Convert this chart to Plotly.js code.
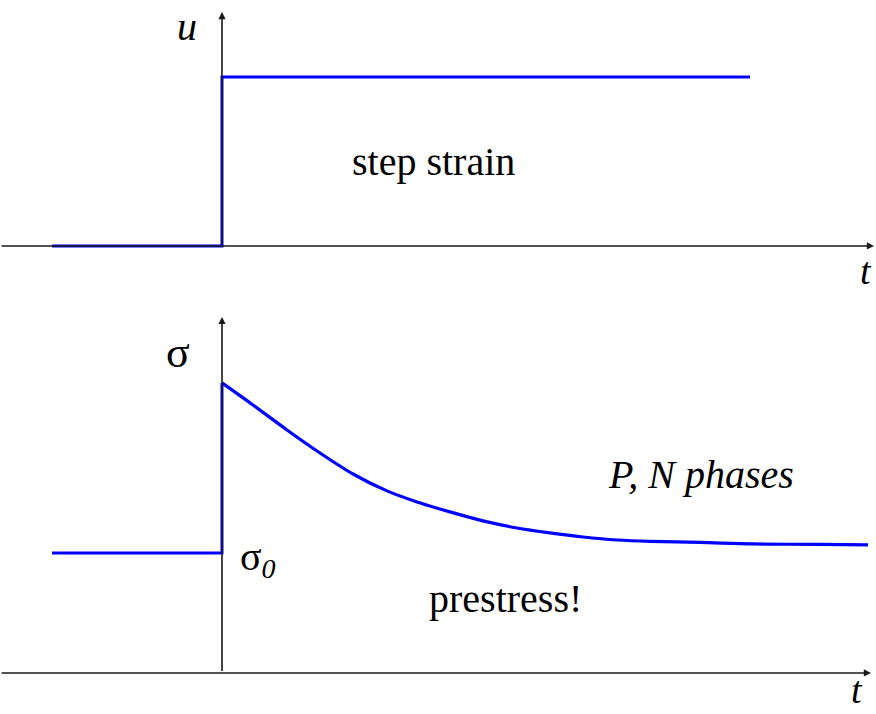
<!DOCTYPE html>
<html>
<head>
<meta charset="utf-8">
<script src="https://cdn.plot.ly/plotly-3.0.1.min.js"></script>
<style>html,body{margin:0;padding:0;background:#fff;}#chart{width:876px;height:714px;}</style>
</head>
<body>
<div id="chart"></div>
<script>
// Step strain input u(t)
var strainT = [-1.7, 0, 0, 5.28];
var strainU = [0, 0, 1, 1];

// Stress response sigma(t)
var stressT = [-1.7, 0, 0, 0.31, 0.65, 0.98, 1.31, 1.65, 1.95, 2.28, 2.61, 2.95, 3.28, 3.61, 3.95, 4.28, 4.78, 5.31, 5.98, 6.46];
var stressS = [1.0, 1.0, 2.417, 2.233, 2.025, 1.833, 1.658, 1.517, 1.425, 1.342, 1.267, 1.208, 1.167, 1.133, 1.108, 1.096, 1.088, 1.075, 1.071, 1.067];

// Axis extents
var tMin = -2.22, tMax = 6.54;
var uAxisTop = 1.385;
var sAxisTop = 2.967;

var serif = "Liberation Serif";
var blue = "#0000ff";
var axisCol = "#1a1a1a";

var traces = [
  {x: strainT, y: strainU, xaxis: "x", yaxis: "y", mode: "lines", line: {color: blue, width: 3}, hoverinfo: "skip"},
  {x: stressT.slice(0, 3), y: stressS.slice(0, 3), xaxis: "x2", yaxis: "y2", mode: "lines", line: {color: blue, width: 3}, hoverinfo: "skip"},
  {x: stressT.slice(2), y: stressS.slice(2), xaxis: "x2", yaxis: "y2", mode: "lines", line: {color: blue, width: 3.2, shape: "spline", smoothing: 0.8}, hoverinfo: "skip"}
];

function arrow(xr, yr, x, y, ax, ay) {
  return {xref: xr, yref: yr, axref: xr, ayref: yr, x: x, y: y, ax: ax, ay: ay, text: " ",
          font: {size: 1}, showarrow: true, arrowhead: 2, arrowsize: 0.9, arrowwidth: 1.6, arrowcolor: axisCol};
}
function label(xr, yr, x, y, txt, size, italic, yanchor) {
  return {xref: xr, yref: yr, x: x, y: y, text: txt, showarrow: false, yanchor: yanchor || "middle",
          font: {family: serif, size: size, color: "#000", style: italic ? "italic" : "normal"}};
}

var layout = {
  width: 876, height: 714,
  margin: {l: 0, r: 0, t: 0, b: 0},
  paper_bgcolor: "#fff", plot_bgcolor: "#fff",
  font: {family: serif},
  showlegend: false,
  xaxis: {domain: [0, 1], range: [tMin, tMax], visible: false, fixedrange: true},
  yaxis: {domain: [0.594, 1], range: [-0.260, 1.456], visible: false, fixedrange: true},
  xaxis2: {domain: [0, 1], range: [tMin, tMax], visible: false, anchor: "y2", fixedrange: true},
  yaxis2: {domain: [0, 0.594], range: [-0.342, 3.192], visible: false, anchor: "x2", fixedrange: true},
  annotations: [
    arrow("x", "y", tMax - 0.02, 0, tMin, 0),
    arrow("x", "y", 0, uAxisTop, 0, 0),
    arrow("x2", "y2", tMax - 0.05, 0, tMin, 0),
    arrow("x2", "y2", 0, sAxisTop, 0, 0),
    label("x", "y", -0.35, 1.30, "u", 40, true),
    label("x", "y", 6.44, -0.15, "t", 38, true),
    label("x", "y", 2.11, 0.50, "step strain", 40, false),
    label("x2", "y2", -0.44, 2.67, "σ", 44, false),
    label("x2", "y2", 0.36, 0.95, "σ<sub><i>0</i></sub>", 40, false),
    label("x2", "y2", 4.79, 1.65, "P, N phases", 40, true),
    label("x2", "y2", 2.83, 0.62, "prestress!", 40, false),
    label("x2", "y2", 6.35, -0.335, "t", 38, true, "bottom")
  ]
};

Plotly.newPlot("chart", traces, layout, {staticPlot: true, displayModeBar: false});
</script>
</body>
</html>
